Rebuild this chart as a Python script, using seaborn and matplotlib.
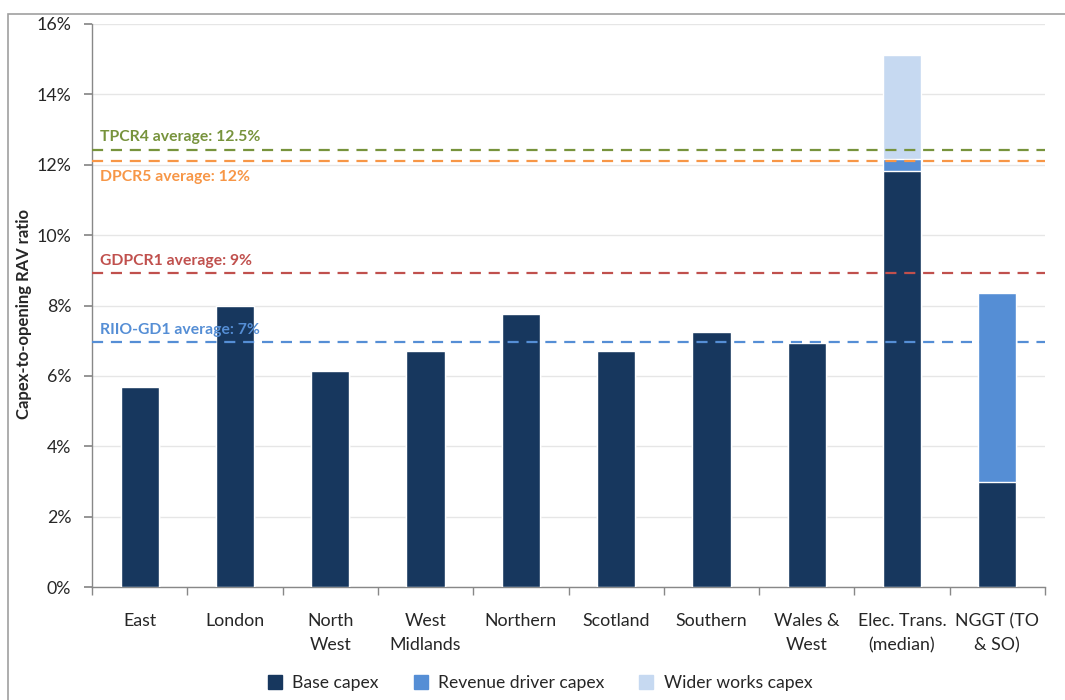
import matplotlib
matplotlib.use("Agg")
import matplotlib.pyplot as plt
import seaborn as sns
import pandas as pd
import numpy as np
from matplotlib.patches import Patch, Rectangle
from matplotlib.ticker import FuncFormatter, MultipleLocator

categories = ["East", "London", "North\nWest", "West\nMidlands", "Northern", "Scotland",
              "Southern", "Wales &\nWest", "Elec. Trans.\n(median)", "NGGT (TO\n& SO)"]
base_capex = [5.68, 7.99, 6.14, 6.71, 7.76, 6.71, 7.25, 6.93, 11.82, 2.98]
revenue_driver_capex = [0, 0, 0, 0, 0, 0, 0, 0, 0.34, 5.37]
wider_works_capex = [0, 0, 0, 0, 0, 0, 0, 0, 2.96, 0]

avg_labels = ["TPCR4 average: 12.5%", "DPCR5 average: 12%", "GDPCR1 average: 9%", "RIIO-GD1 average: 7%"]
avg_values = [12.43, 12.1, 8.93, 6.96]
avg_colors = ["#77933C", "#F79646", "#C0504D", "#558ED5"]
avg_label_offsets = [0.36, -0.45, 0.33, 0.34]

sns.set_theme(style="white")
plt.rcParams["font.family"] = ["Lato", "DejaVu Sans"]

df = pd.DataFrame({
    "cat": categories,
    "base": base_capex,
    "rev": revenue_driver_capex,
    "wider": wider_works_capex,
})
df["base_rev"] = df["base"] + df["rev"]
df["total"] = df["base_rev"] + df["wider"]

fig = plt.figure(figsize=(10.65, 7.0), dpi=100)
ax = fig.add_axes([92/1065, 1-587/700, (1045-92)/1065, (587-24)/700])

c_base, c_rev, c_wider = "#17375E", "#558ED5", "#C6D9F1"
sns.barplot(data=df, x="cat", y="total", color=c_wider, width=0.4, saturation=1, ax=ax, zorder=3)
sns.barplot(data=df, x="cat", y="base_rev", color=c_rev, width=0.4, saturation=1, ax=ax, zorder=3)
sns.barplot(data=df, x="cat", y="base", color=c_base, width=0.4, saturation=1, ax=ax, zorder=3)

for lab, val, col, off in zip(avg_labels, avg_values, avg_colors, avg_label_offsets):
    ax.axhline(val, color=col, lw=1.6, ls=(0, (5, 3.5)), zorder=4)
    ax.text(-0.42, val + off, lab, color=col, fontsize=11.3, fontweight="bold",
            ha="left", va="center", zorder=5)

ax.set_xlim(-0.5, 9.5)
ax.set_ylim(0, 16)
ax.yaxis.set_major_locator(MultipleLocator(2))
ax.yaxis.set_major_formatter(FuncFormatter(lambda v, p: f"{v:.0f}%"))
ax.grid(axis="y", color="#E6E6E6", lw=1, zorder=0)
ax.set_axisbelow(True)

ax.set_xlabel("")
ax.set_ylabel("Capex-to-opening RAV ratio", fontsize=12, fontweight="bold")
ax.yaxis.set_label_coords(-0.063, 0.485)
ax.set_xticks(np.arange(10))
ax.set_xticklabels(categories, fontsize=12.8, linespacing=1.6)
ax.set_xticks(np.arange(-0.5, 10, 1), minor=True)
ax.tick_params(axis="x", which="major", length=0, pad=19)
ax.tick_params(axis="x", which="minor", length=6, color="#888888", direction="out", bottom=True)
ax.tick_params(axis="y", labelsize=12.8, length=6, color="#888888", direction="out", left=True, pad=9)
for s in ["top", "right"]:
    ax.spines[s].set_visible(False)
for s in ["left", "bottom"]:
    ax.spines[s].set_color("#888888")
    ax.spines[s].set_linewidth(1)

handles = [Patch(color=c_base, label="Base capex"),
           Patch(color=c_rev, label="Revenue driver capex"),
           Patch(color=c_wider, label="Wider works capex")]
fig.legend(handles=handles, loc="center", bbox_to_anchor=(540/1065, 1-683/700), ncol=3,
           frameon=False, fontsize=12.6, handlelength=0.8, handleheight=0.8, columnspacing=2.0,
           handletextpad=0.6)

fig.patches.append(Rectangle((8/1065, -0.1), 1.2, 1 - 14/700 + 0.1, transform=fig.transFigure,
                             fill=False, edgecolor="#A0A0A0", lw=1.2))

fig.savefig("out.png", dpi=100)
